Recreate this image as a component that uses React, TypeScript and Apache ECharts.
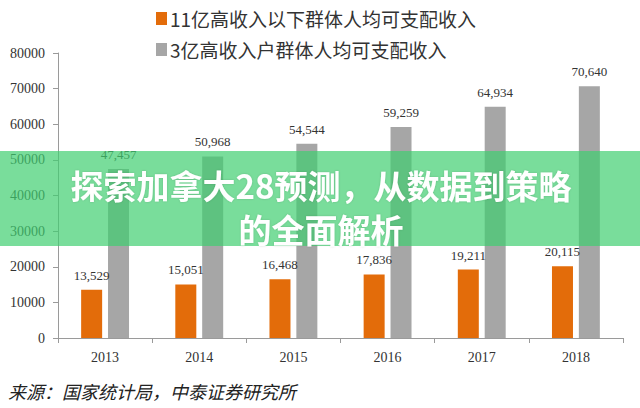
import React, { useEffect, useRef } from "react";
import * as echarts from "echarts";

const years = ["2013", "2014", "2015", "2016", "2017", "2018"];
const lowIncome = [13529, 15051, 16468, 17836, 19211, 20115];
const highIncome = [47457, 50968, 54544, 59259, 64934, 70640];
const seriesNames = ["11亿高收入以下群体人均可支配收入", "3亿高收入户群体人均可支配收入"];
const titleLines = ["探索加拿大28预测，从数据到策略", "的全面解析"];
const sourceText = "来源：国家统计局，中泰证券研究所";

const fmt = (v: number) => v.toLocaleString("en-US");

export default function App() {
  const ref = useRef<HTMLDivElement>(null);
  useEffect(() => {
    if (!ref.current) return;
    const chart = echarts.init(ref.current, null, { renderer: "svg" });
    const serif = "'Liberation Serif', 'DejaVu Serif', serif";
    const cjk = "'Noto Sans CJK SC', sans-serif";
    chart.setOption({
      animation: false,
      backgroundColor: "#ffffff",
      legend: {
        orient: "vertical",
        left: 151,
        top: 4,
        itemWidth: 11,
        itemHeight: 13,
        itemGap: 12,
        icon: "rect",
        textStyle: { fontSize: 19, fontFamily: cjk, color: "#333333", padding: [0, 0, 0, -2] },
        data: seriesNames,
      },
      grid: { left: 58, right: 17, top: 53, bottom: 70 },
      xAxis: {
        type: "category",
        data: years,
        axisLine: { lineStyle: { color: "#9a9a9a" } },
        axisTick: { show: true, length: 5, lineStyle: { color: "#9a9a9a" } },
        axisLabel: { fontFamily: serif, fontSize: 14, color: "#333333", margin: 12 },
      },
      yAxis: {
        type: "value",
        min: 0,
        max: 80000,
        interval: 10000,
        splitLine: { show: false },
        axisLine: { show: true, lineStyle: { color: "#9a9a9a" } },
        axisTick: { show: true, length: 5, lineStyle: { color: "#9a9a9a" } },
        axisLabel: {
          fontFamily: serif,
          fontSize: 14,
          color: "#333333",
          margin: 13,
          formatter: (v: number) => String(v),
        },
      },
      series: [
        {
          name: seriesNames[0],
          type: "bar",
          data: lowIncome,
          barWidth: 21,
          barGap: "28%",
          itemStyle: { color: "#e36c0a" },
          label: {
            show: true,
            position: "top",
            distance: 8,
            fontFamily: serif,
            fontSize: 13,
            color: "#333333",
            formatter: (p: any) => fmt(p.value),
          },
        },
        {
          name: seriesNames[1],
          type: "bar",
          data: highIncome,
          barWidth: 21,
          itemStyle: { color: "#a6a6a6" },
          label: {
            show: true,
            position: "top",
            distance: 8,
            fontFamily: serif,
            fontSize: 13,
            color: "#333333",
            formatter: (p: any) => fmt(p.value),
          },
        },
      ],
      graphic: [
        {
          type: "rect",
          z: 100,
          shape: { x: 0, y: 151, width: 640, height: 95 },
          style: { fill: "rgba(64,206,112,0.7)" },
        },
        {
          type: "text",
          z: 101,
          x: 321,
          y: 185,
          style: {
            text: titleLines[0],
            fill: "#ffffff",
            font: `bold 33px ${cjk}`,
            align: "center",
            verticalAlign: "middle",
            textShadowColor: "rgba(0,0,0,0.15)",
            textShadowBlur: 2,
          },
        },
        {
          type: "text",
          z: 101,
          x: 321,
          y: 229,
          style: {
            text: titleLines[1],
            fill: "#ffffff",
            font: `bold 33px ${cjk}`,
            align: "center",
            verticalAlign: "middle",
            textShadowColor: "rgba(0,0,0,0.15)",
            textShadowBlur: 2,
          },
        },
        {
          type: "text",
          z: 101,
          x: 8,
          y: 391,
          style: {
            text: sourceText,
            fill: "#222222",
            font: `italic 18px ${cjk}`,
            align: "left",
            verticalAlign: "middle",
          },
        },
      ],
    });
    return () => chart.dispose();
  }, []);
  return <div ref={ref} style={{ width: 640, height: 408, position: "absolute", left: 0, top: 0 }} />;
}
